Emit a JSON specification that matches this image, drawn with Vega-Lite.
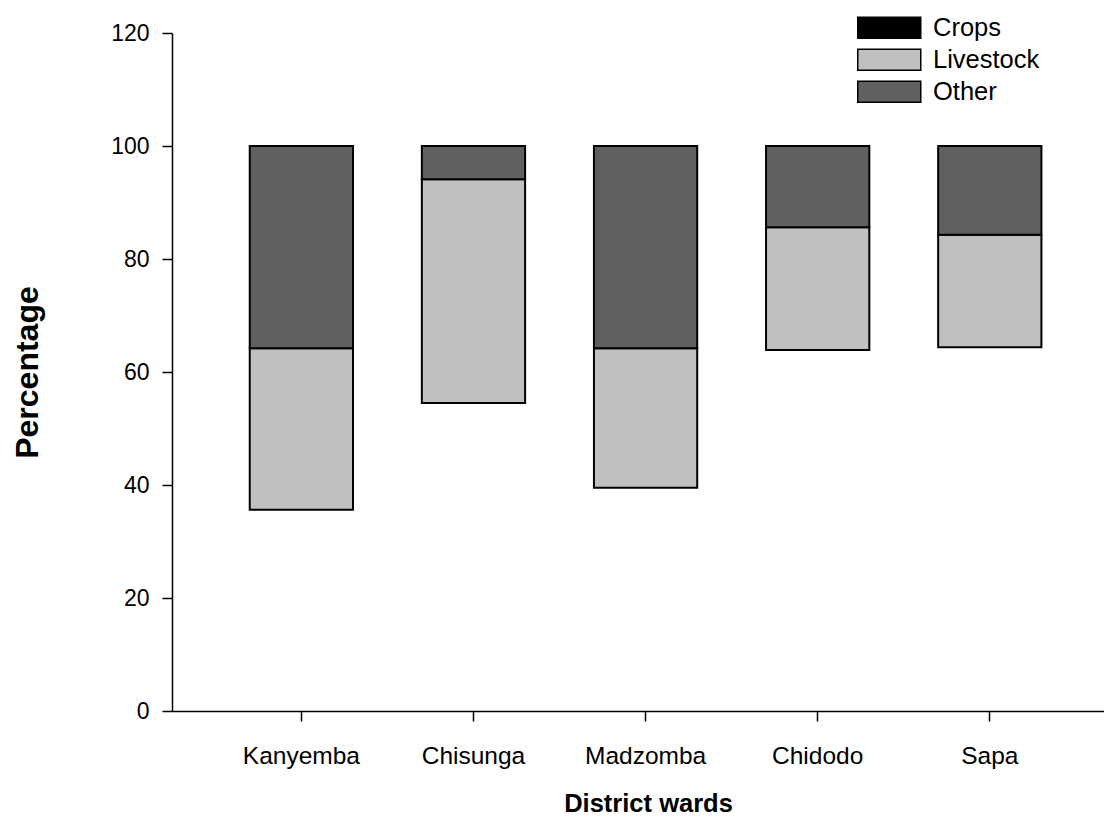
{
  "$schema": "https://vega.github.io/schema/vega-lite/v6.json",
  "width": 932,
  "height": 678,
  "autosize": {"type": "none"},
  "padding": {"left": 172, "top": 33, "right": 0, "bottom": 107},
  "background": "white",
  "config": {
    "view": {"stroke": null},
    "font": "Liberation Sans",
    "axis": {
      "grid": false,
      "domainColor": "black",
      "domainWidth": 1.5,
      "tickColor": "black",
      "tickWidth": 1.5,
      "tickSize": 10,
      "labelColor": "black",
      "titleColor": "black",
      "labelFont": "Liberation Sans",
      "titleFont": "Liberation Sans",
      "titleFontWeight": "bold"
    }
  },
  "data": {
    "values": [
      {"ward": "Kanyemba", "category": "Crops", "pct": 35.6},
      {"ward": "Kanyemba", "category": "Livestock", "pct": 28.6},
      {"ward": "Kanyemba", "category": "Other", "pct": 35.8},
      {"ward": "Chisunga", "category": "Crops", "pct": 54.5},
      {"ward": "Chisunga", "category": "Livestock", "pct": 39.6},
      {"ward": "Chisunga", "category": "Other", "pct": 5.9},
      {"ward": "Madzomba", "category": "Crops", "pct": 39.5},
      {"ward": "Madzomba", "category": "Livestock", "pct": 24.7},
      {"ward": "Madzomba", "category": "Other", "pct": 35.8},
      {"ward": "Chidodo", "category": "Crops", "pct": 63.9},
      {"ward": "Chidodo", "category": "Livestock", "pct": 21.7},
      {"ward": "Chidodo", "category": "Other", "pct": 14.4},
      {"ward": "Sapa", "category": "Crops", "pct": 64.4},
      {"ward": "Sapa", "category": "Livestock", "pct": 19.9},
      {"ward": "Sapa", "category": "Other", "pct": 15.7}
    ]
  },
  "transform": [
    {"stack": "pct", "groupby": ["ward"], "sort": [{"field": "category", "order": "ascending"}], "as": ["y0", "y1"]},
    {"filter": "datum.category !== 'Crops'"}
  ],
  "mark": {"type": "bar", "stroke": "black", "strokeWidth": 2, "opacity": 1},
  "encoding": {
    "x": {
      "field": "ward",
      "type": "nominal",
      "sort": ["Kanyemba", "Chisunga", "Madzomba", "Chidodo", "Sapa"],
      "scale": {"paddingInner": 0.4, "paddingOuter": 0.4077, "align": 0.554},
      "axis": {
        "title": "District wards",
        "labelAngle": 0,
        "labelFontSize": 24.5,
        "labelPadding": 23,
        "titleFontSize": 25.5,
        "titlePadding": 24,
        "titleX": 476,
        "titleAlign": "center"
      }
    },
    "y": {
      "field": "y0",
      "type": "quantitative",
      "scale": {"domain": [0, 120]},
      "axis": {
        "title": "Percentage",
        "values": [0, 20, 40, 60, 80, 100, 120],
        "labelFontSize": 23,
        "labelPadding": 13,
        "titleFontSize": 32,
        "titlePadding": 66
      }
    },
    "y2": {"field": "y1"},
    "color": {
      "field": "category",
      "type": "nominal",
      "scale": {"domain": ["Crops", "Livestock", "Other"], "range": ["#000000", "#c0c0c0", "#606060"]},
      "legend": {
        "title": null,
        "orient": "none",
        "legendX": 704.5,
        "legendY": -18,
        "padding": 0,
        "symbolType": "M-3,-1H3V1H-3Z",
        "symbolSize": 441,
        "symbolStrokeColor": "black",
        "symbolStrokeWidth": 1.5,
        "symbolOpacity": 1,
        "labelFontSize": 25.5,
        "labelColor": "black",
        "labelFont": "Liberation Sans",
        "labelOffset": 31,
        "rowPadding": 4
      }
    }
  }
}
